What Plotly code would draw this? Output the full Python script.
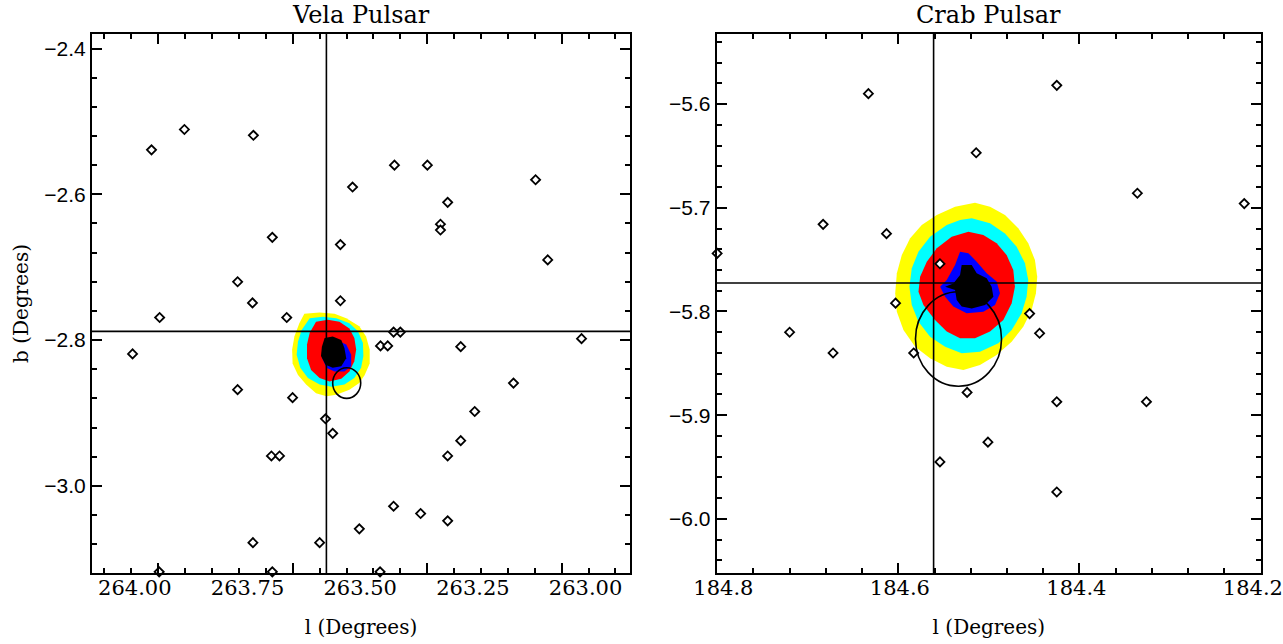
import plotly.graph_objects as go

# ---------------- Vela data ----------------
vela_l = [264.096, 263.963, 263.890, 263.737, 263.945, 264.005, 263.695, 263.772, 263.739, 263.663,
          263.544, 263.544, 263.517, 263.424, 263.351, 263.306, 263.322, 263.322, 263.455, 263.439,
          263.411, 263.426, 263.277, 263.111, 263.084, 263.009, 263.160, 263.772, 263.650, 263.577,
          263.561, 263.697, 263.679, 263.246, 263.277, 263.306, 263.426, 263.366, 263.306, 263.502,
          263.590, 263.738, 263.695, 263.456, 263.946]
vela_b = [-2.680, -2.539, -2.511, -2.519, -2.769, -2.819, -2.659, -2.720, -2.749, -2.769,
          -2.746, -2.669, -2.590, -2.560, -2.560, -2.611, -2.641, -2.649, -2.808, -2.808,
          -2.789, -2.789, -2.809, -2.580, -2.690, -2.798, -2.859, -2.868, -2.879, -2.908,
          -2.928, -2.959, -2.959, -2.898, -2.938, -2.959, -3.028, -3.038, -3.048, -3.059,
          -3.078, -3.078, -3.118, -3.118, -3.118]
vela_psr_l, vela_psr_b = 263.575, -2.788
vela_err_l = [263.4989, 263.5611]
vela_err_b = [-2.880, -2.838]

vela_yellow = [(263.624, -2.764), (263.590, -2.762), (263.557, -2.764), (263.531, -2.770), (263.502, -2.781),
               (263.487, -2.795), (263.479, -2.813), (263.479, -2.832), (263.490, -2.848), (263.502, -2.859),
               (263.524, -2.868), (263.553, -2.875), (263.575, -2.877), (263.598, -2.873), (263.620, -2.861),
               (263.638, -2.848), (263.650, -2.832), (263.651, -2.813), (263.646, -2.795), (263.635, -2.777)]
vela_cyan = [(263.612, -2.770), (263.583, -2.768), (263.553, -2.770), (263.524, -2.777), (263.505, -2.788),
             (263.494, -2.804), (263.493, -2.822), (263.498, -2.838), (263.513, -2.852), (263.535, -2.861),
             (263.564, -2.864), (263.590, -2.861), (263.616, -2.852), (263.633, -2.838), (263.641, -2.820),
             (263.638, -2.802), (263.630, -2.786)]
vela_red = [(263.598, -2.775), (263.572, -2.772), (263.546, -2.775), (263.524, -2.784), (263.513, -2.797),
            (263.509, -2.813), (263.513, -2.829), (263.524, -2.843), (263.542, -2.853), (263.568, -2.857),
            (263.590, -2.852), (263.609, -2.841), (263.618, -2.825), (263.618, -2.806), (263.612, -2.790)]
vela_blue = [(263.579, -2.802), (263.553, -2.800), (263.531, -2.806), (263.520, -2.820), (263.520, -2.836),
             (263.535, -2.843), (263.557, -2.843), (263.575, -2.838), (263.584, -2.825)]
vela_black = [(263.579, -2.797), (263.561, -2.795), (263.542, -2.800), (263.535, -2.811), (263.531, -2.825),
              (263.542, -2.836), (263.561, -2.838), (263.577, -2.834), (263.587, -2.822), (263.585, -2.809)]

vela_x_labels = [264.00, 263.75, 263.50, 263.25, 263.00]

# ---------------- Crab data ----------------
crab_l = [184.800, 184.720, 184.683, 184.672, 184.633, 184.613, 184.603, 184.583, 184.554, 184.554,
          184.514, 184.524, 184.501, 184.455, 184.444, 184.425, 184.425, 184.425, 184.336, 184.326, 184.218]
crab_b = [-5.744, -5.820, -5.716, -5.840, -5.590, -5.725, -5.792, -5.840, -5.754, -5.945,
          -5.647, -5.878, -5.926, -5.802, -5.821, -5.582, -5.887, -5.974, -5.686, -5.887, -5.696]
crab_psr_l, crab_psr_b = 184.561, -5.7725
crab_err_l = [184.581, 184.486]
crab_err_b = [-5.872, -5.781]

crab_yellow = [(184.5153, -5.6951), (184.4987, -5.6990), (184.4822, -5.7070), (184.4675, -5.7198), (184.4565, -5.7343),
               (184.4491, -5.7504), (184.4466, -5.7664), (184.4480, -5.7825), (184.4528, -5.7986), (184.4620, -5.8146),
               (184.4748, -5.8291), (184.4914, -5.8419), (184.5098, -5.8516), (184.5281, -5.8564), (184.5465, -5.8532),
               (184.5649, -5.8451), (184.5814, -5.8339), (184.5943, -5.8178), (184.6016, -5.8002), (184.6034, -5.7825),
               (184.6016, -5.7632), (184.5961, -5.7455), (184.5869, -5.7295), (184.5741, -5.7166), (184.5575, -5.7070),
               (184.5373, -5.6990)]
crab_cyan = [(184.5189, -5.7102), (184.4987, -5.7150), (184.4822, -5.7247), (184.4693, -5.7375), (184.4601, -5.7536),
             (184.4565, -5.7696), (184.4583, -5.7857), (184.4638, -5.8018), (184.4748, -5.8178), (184.4895, -5.8307),
             (184.5098, -5.8387), (184.5300, -5.8403), (184.5483, -5.8339), (184.5649, -5.8243), (184.5777, -5.8098),
             (184.5851, -5.7937), (184.5877, -5.7761), (184.5851, -5.7584), (184.5777, -5.7423), (184.5649, -5.7279),
             (184.5465, -5.7166), (184.5318, -5.7118)]
crab_red = [(184.5226, -5.7231), (184.5061, -5.7263), (184.4914, -5.7343), (184.4804, -5.7455), (184.4730, -5.7600),
            (184.4712, -5.7761), (184.4748, -5.7921), (184.4840, -5.8082), (184.4987, -5.8194), (184.5153, -5.8259),
            (184.5318, -5.8259), (184.5465, -5.8194), (184.5594, -5.8082), (184.5722, -5.7937), (184.5777, -5.7809),
            (184.5759, -5.7664), (184.5685, -5.7520), (184.5575, -5.7391), (184.5410, -5.7279)]
crab_blue = [(184.5318, -5.7423), (184.5226, -5.7439), (184.5134, -5.7520), (184.5024, -5.7632), (184.4914, -5.7712),
             (184.4877, -5.7825), (184.4932, -5.7937), (184.5061, -5.8002), (184.5245, -5.8018), (184.5392, -5.7953),
             (184.5483, -5.7857), (184.5538, -5.7761), (184.5465, -5.7696), (184.5373, -5.7552)]
crab_black = [(184.5300, -5.7552), (184.5189, -5.7552), (184.5134, -5.7632), (184.5024, -5.7680), (184.4969, -5.7761),
              (184.4950, -5.7857), (184.5042, -5.7937), (184.5189, -5.7970), (184.5300, -5.7953), (184.5355, -5.7889),
              (184.5373, -5.7793), (184.5483, -5.7761), (184.5392, -5.7729), (184.5318, -5.7648)]

crab_x_labels = [184.8, 184.6, 184.4, 184.2]

level_colors = ["#FFFF00", "#00FFFF", "#FF0000", "#0000FF", "#000000"]

SERIF = "DejaVu Serif"
SANS = "Liberation Sans"

fig = go.Figure()


def add_poly(pts, color, xa, ya):
    fig.add_trace(go.Scatter(x=[p[0] for p in pts], y=[p[1] for p in pts], mode="lines",
                             fill="toself", fillcolor=color, line=dict(width=0, color=color),
                             xaxis=xa, yaxis=ya, hoverinfo="skip", showlegend=False))


for pts, c in zip([vela_yellow, vela_cyan, vela_red, vela_blue, vela_black], level_colors):
    add_poly(pts, c, "x", "y")
for pts, c in zip([crab_yellow, crab_cyan, crab_red, crab_blue, crab_black], level_colors):
    add_poly(pts, c, "x2", "y2")

marker = dict(symbol="diamond", size=7, color="white", line=dict(color="black", width=1.8))
fig.add_trace(go.Scatter(x=vela_l, y=vela_b, mode="markers", marker=marker, xaxis="x", yaxis="y",
                         cliponaxis=False, showlegend=False))
fig.add_trace(go.Scatter(x=crab_l, y=crab_b, mode="markers", marker=marker, xaxis="x2", yaxis="y2",
                         cliponaxis=False, showlegend=False))
# carrier traces for the label axes
fig.add_trace(go.Scatter(x=[vela_x_labels[2]], y=[vela_b[0]], mode="markers", marker=dict(opacity=0),
                         xaxis="x3", yaxis="y", hoverinfo="skip", showlegend=False))
fig.add_trace(go.Scatter(x=[crab_x_labels[1]], y=[crab_b[0]], mode="markers", marker=dict(opacity=0),
                         xaxis="x4", yaxis="y2", hoverinfo="skip", showlegend=False))

line_style = dict(color="black", width=1.6)
shapes = [
    dict(type="line", xref="x", yref="y domain", x0=vela_psr_l, x1=vela_psr_l, y0=0, y1=1, line=line_style, layer="above"),
    dict(type="line", xref="x domain", yref="y", x0=0, x1=1, y0=vela_psr_b, y1=vela_psr_b, line=line_style, layer="above"),
    dict(type="circle", xref="x", yref="y", x0=vela_err_l[0], x1=vela_err_l[1], y0=vela_err_b[0], y1=vela_err_b[1],
         line=line_style, layer="above"),
    dict(type="line", xref="x2", yref="y2 domain", x0=crab_psr_l, x1=crab_psr_l, y0=0, y1=1, line=line_style, layer="above"),
    dict(type="line", xref="x2 domain", yref="y2", x0=0, x1=1, y0=crab_psr_b, y1=crab_psr_b, line=line_style, layer="above"),
    dict(type="circle", xref="x2", yref="y2", x0=crab_err_l[0], x1=crab_err_l[1], y0=crab_err_b[0], y1=crab_err_b[1],
         line=line_style, layer="above"),
]

W, H = 1283, 644
vela_dom = [92 / W, 630 / W]
crab_dom = [716.7 / W, 1261 / W]
y_dom = [1 - 573 / H, 1 - 34 / H]

frame = dict(showline=True, linewidth=2, linecolor="black", mirror="ticks", ticks="inside",
             ticklen=10, tickwidth=1.5, tickcolor="black", showgrid=False, zeroline=False,
             automargin=False)
minor_x = dict(ticks="inside", ticklen=5, tickwidth=1.5, tickcolor="black", showgrid=False)
label_axis = dict(ticks="", showline=False, showgrid=False, zeroline=False, automargin=False,
                  ticklabeloverflow="allow", tickmode="array",
                  tickfont=dict(family=SERIF, size=21, color="black"))
xtitle = dict(text="l (Degrees)", font=dict(family=SERIF, size=20, color="black"), standoff=20)

fig.update_layout(
    width=W, height=H, margin=dict(l=0, r=0, t=0, b=0),
    paper_bgcolor="white", plot_bgcolor="white", showlegend=False,
    shapes=shapes,
    # Vela: tick-mark axis and label axis
    xaxis=dict(domain=vela_dom, anchor="y", range=[264.095, 262.9015], tickmode="linear",
               tick0=263.948, dtick=0.2983, showticklabels=False,
               minor=dict(tick0=263.948, dtick=0.05966, **minor_x), **frame),
    xaxis3=dict(overlaying="x", anchor="y", side="bottom", range=[264.095, 262.9015],
                tickvals=vela_x_labels, tickformat=".2f", title=xtitle, **label_axis),
    yaxis=dict(domain=y_dom, anchor="x", range=[-3.1196, -2.380], tickmode="linear", tick0=-2.4, dtick=0.2,
               tickformat=".1f", tickfont=dict(family=SANS, size=21, color="black"),
               minor=dict(dtick=0.04, **minor_x),
               title=dict(text="b (Degrees)", font=dict(family=SERIF, size=20, color="black"), standoff=10),
               **frame),
    # Crab: tick-mark axis and label axis
    xaxis2=dict(domain=crab_dom, anchor="y2", range=[184.8005, 184.1995], tickmode="linear", tick0=184.2, dtick=0.2,
                showticklabels=False, minor=dict(dtick=0.04, **minor_x), **frame),
    xaxis4=dict(overlaying="x2", anchor="y2", side="bottom", range=[184.8076, 184.1908],
                tickvals=crab_x_labels, tickformat=".1f", title=xtitle, **label_axis),
    yaxis2=dict(domain=y_dom, anchor="x2", range=[-6.0521, -5.5325], tickmode="linear", tick0=-6.0, dtick=0.1,
                tickformat=".1f", tickfont=dict(family=SANS, size=21, color="black"),
                minor=dict(dtick=0.02, **minor_x), **frame),
    annotations=[
        dict(text="Vela Pulsar", xref="x domain", yref="y domain", x=0.5, y=1, yanchor="bottom", yshift=3,
             showarrow=False, font=dict(family=SERIF, size=24, color="black")),
        dict(text="Crab Pulsar", xref="x2 domain", yref="y2 domain", x=0.5, y=1, yanchor="bottom", yshift=3,
             showarrow=False, font=dict(family=SERIF, size=24, color="black")),
    ],
)

fig.write_html("out.html")
